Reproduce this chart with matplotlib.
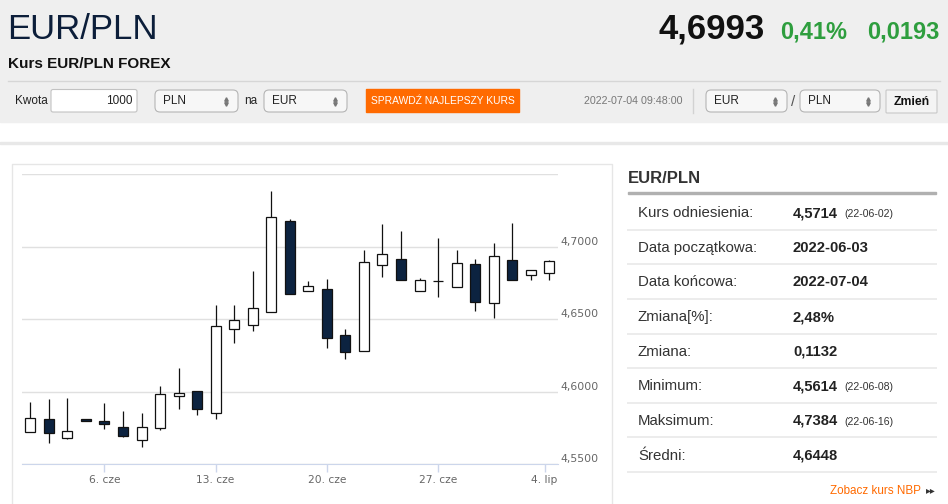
import matplotlib
matplotlib.use("Agg")
import matplotlib.pyplot as plt
import numpy as np
from matplotlib.patches import FancyBboxPatch, Rectangle
from matplotlib.transforms import ScaledTranslation

# candle data, EUR/PLN 2022-06-02 .. 2022-07-04
opens = [4.5719, 4.5809, 4.5677, 4.5809, 4.5795, 4.5755, 4.5666, 4.5746, 4.5969, 4.6006,
         4.5850, 4.6434, 4.6462, 4.6549, 4.7178, 4.6692, 4.6706, 4.6391, 4.6280, 4.6872,
         4.6915, 4.6692, 4.6761, 4.6724, 4.6881, 4.6609, 4.6908, 4.6805, 4.6819]
closes = [4.5816, 4.5712, 4.5728, 4.5795, 4.5774, 4.5691, 4.5753, 4.5983, 4.5992, 4.5878,
          4.6451, 4.6494, 4.6579, 4.7203, 4.6672, 4.6727, 4.6368, 4.6273, 4.6892, 4.6948,
          4.6772, 4.6768, 4.6761, 4.6886, 4.6616, 4.6934, 4.6772, 4.6839, 4.6901]
highs = [4.5926, 4.5947, 4.5954, 4.5809, 4.5919, 4.5866, 4.5850, 4.6038, 4.6161, 4.6006,
         4.6598, 4.6598, 4.6828, 4.7385, 4.7189, 4.6763, 4.6777, 4.6430, 4.6973, 4.7155,
         4.7107, 4.6784, 4.7060, 4.6977, 4.6915, 4.7026, 4.7162, 4.6839, 4.6908]
lows = [4.5719, 4.5647, 4.5671, 4.5795, 4.5740, 4.5686, 4.5617, 4.5735, 4.5880, 4.5838,
        4.5809, 4.6337, 4.6420, 4.6549, 4.6672, 4.6692, 4.6299, 4.6223, 4.6280, 4.6791,
        4.6772, 4.6692, 4.6655, 4.6724, 4.6554, 4.6508, 4.6772, 4.6770, 4.6770]

xtick_pos = [4, 10, 16, 22, 27.75]
xtick_labels = ['6. cze', '13. cze', '20. cze', '27. cze', '4. lip']
ytick_vals = [4.55, 4.60, 4.65, 4.70, 4.75]
ytick_labels = ['4,5500', '4,6000', '4,6500', '4,7000', '']

# side table
stat_labels = ['Kurs odniesienia:', 'Data początkowa:', 'Data końcowa:', 'Zmiana[%]:',
               'Zmiana:', 'Minimum:', 'Maksimum:', 'Średni:']
stat_values = ['4,5714', '2022-06-03', '2022-07-04', '2,48%', '0,1132', '4,5614', '4,7384', '4,6448']
stat_dates = ['(22-06-02)', '', '', '', '', '(22-06-08)', '(22-06-16)', '']

FONT = 'Liberation Sans'
DARK = '#0c2340'

fig = plt.figure(figsize=(9.48, 5.04), dpi=100)
bg = fig.add_axes([0, 0, 1, 1])
bg.set_xlim(0, 948)
bg.set_ylim(504, 0)
bg.axis('off')

# %% header
bg.add_patch(Rectangle((0, 0), 948, 122, color='#efefef', zorder=0))
bg.plot([8, 940], [80.5, 80.5], color='#d6d6d6', lw=1)
bg.text(7, 39, 'EUR/PLN', family=FONT, fontsize=25, color='#0c1e3a', va='baseline')
bg.text(8, 68, 'Kurs EUR/PLN FOREX', family=FONT, fontsize=11, weight='bold', color='#111', va='baseline')
bg.text(765, 38.5, '4,6993', family=FONT, fontsize=25, weight='bold', color='#111', ha='right', va='baseline')
bg.text(780, 38.5, '0,41%', family=FONT, fontsize=17, weight='bold', color='#2e9e3e', va='baseline')
bg.text(940, 38.5, '0,0193', family=FONT, fontsize=17, weight='bold', color='#2e9e3e', ha='right', va='baseline')


def box(x0, x1, y0=90, y1=112, fc='#f7f7f7', ec='#b5b5b5', r=5):
    bg.add_patch(FancyBboxPatch((x0, y0), x1 - x0, y1 - y0,
                                boxstyle='round,pad=0,rounding_size=%g' % r,
                                fc=fc, ec=ec, lw=0.8, zorder=2))


def select(x0, x1, label):
    box(x0, x1)
    bg.text(x0 + 8, 101, label, family=FONT, fontsize=8.5, color='#222', va='center', zorder=3)
    bg.plot([x1 - 12], [99], marker='^', ms=2.5, color='#777', zorder=3)
    bg.plot([x1 - 12], [103.5], marker='v', ms=2.5, color='#777', zorder=3)


bg.text(15, 101, 'Kwota', family=FONT, fontsize=8.5, color='#222', va='center')
box(51, 137, 89.5, 112, fc='white', ec='#c2c2c2', r=2)
bg.text(133, 101, '1000', family=FONT, fontsize=8.5, color='#222', va='center', ha='right', zorder=3)
select(155, 238, 'PLN')
bg.text(244, 101, 'na', family=FONT, fontsize=8.5, color='#222', va='center')
select(264, 347, 'EUR')
bg.add_patch(Rectangle((366, 89), 153, 23, color='#ff6a00', zorder=2))
bg.text(442.5, 101, 'SPRAWDŹ NAJLEPSZY KURS', family=FONT, fontsize=7.4, color='white',
        ha='center', va='center', zorder=3)
bg.text(584, 101.5, '2022-07-04 09:48:00', family=FONT, fontsize=7.7, color='#777', va='center')
bg.plot([693, 693], [89, 113], color='#d2d2d2', lw=1)
select(706, 787, 'EUR')
bg.text(793, 102, '/', family=FONT, fontsize=11, color='#555', ha='center', va='center')
select(800, 880, 'PLN')
box(886, 937, 90, 113, fc='#f4f4f4', ec='#c8c8c8', r=1)
bg.text(911.5, 102, 'Zmień', family=FONT, fontsize=8.8, weight='bold', color='#111',
        ha='center', va='center', zorder=3)

bg.add_patch(Rectangle((0, 141.5), 948, 2, color='#e8e8e8', zorder=1))

# chart frame
bg.plot([12.5, 12.5, 612.5, 612.5], [510, 163.5, 163.5, 510], color='#e6e6e6', lw=1)

# %% side table
bg.text(628, 182.7, 'EUR/PLN', family=FONT, fontsize=12, weight='bold', color='#333', va='baseline')
bg.add_patch(Rectangle((628, 192.3), 308, 2, color='#b0b0b0', zorder=1))
for i, (lab, val, dt) in enumerate(zip(stat_labels, stat_values, stat_dates)):
    yb = 217.3 + 34.6 * i
    bg.text(638, yb, lab, family=FONT, fontsize=10.8, color='#333', va='baseline')
    bg.text(793, yb, val, family=FONT, fontsize=10.6, weight='bold', color='#222', va='baseline')
    if dt:
        bg.text(844, yb, dt, family=FONT, fontsize=7.6, color='#333', va='baseline')
    bg.plot([628, 936], [229.8 + 34.6 * i] * 2, color='#ececec', lw=1.4)
bg.text(921, 493.5, 'Zobacz kurs NBP', family=FONT, fontsize=8.4, color='#ff6a00', ha='right', va='baseline')
bg.text(925.5, 493, '▸▸', family='DejaVu Sans', fontsize=7, color='#333', va='baseline')

# %% candlestick chart
ax = fig.add_axes([22 / 948, (504 - 464) / 504, 536 / 948, 290 / 504])
ax.set_facecolor('none')
x = np.arange(len(opens))
o = np.array(opens)
c = np.array(closes)
up = c >= o
ax.vlines(x, lows, highs, color='#111', lw=0.9, zorder=2)
ax.bar(x, np.abs(c - o), bottom=np.minimum(o, c), width=0.54,
       color=np.where(up, 'white', DARK), edgecolor='#111', lw=0.9, zorder=3)

ax.set_xlim(-0.45, 28.47)
ax.set_ylim(4.55, 4.75)
ax.set_yticks(ytick_vals, ytick_labels)
ax.yaxis.tick_right()
ax.grid(axis='y', color='#e0e0e0', lw=1)
ax.set_axisbelow(True)
ax.tick_params(axis='y', length=0, pad=2, labelsize=7.8, labelcolor='#666')
for lab in ax.get_yticklabels():
    lab.set_family('DejaVu Sans')
    lab.set_transform(lab.get_transform() + ScaledTranslation(0, 6 / 100, fig.dpi_scale_trans))
ax.set_xticks(xtick_pos, xtick_labels)
ax.tick_params(axis='x', length=6, width=1, color='#ccd6eb', pad=2, labelsize=7.7, labelcolor='#666')
for lab in ax.get_xticklabels():
    lab.set_family('DejaVu Sans')
for s in ['top', 'left', 'right']:
    ax.spines[s].set_visible(False)
ax.spines['bottom'].set_color('#ccd6eb')

fig.savefig('out.png', dpi=100)
